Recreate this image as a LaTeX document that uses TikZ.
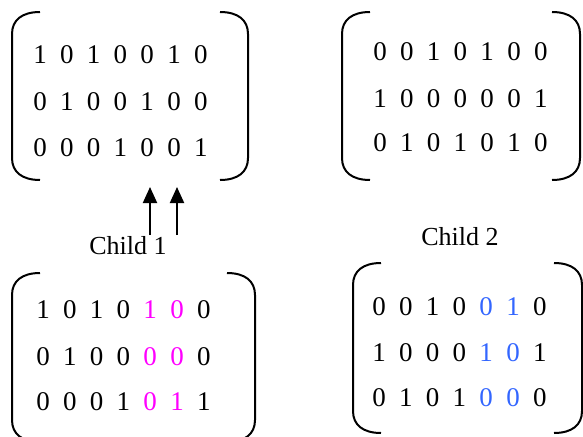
\documentclass[tikz,border=0pt]{standalone}
\usepackage{fontspec}
\setmainfont{Liberation Serif}
\usetikzlibrary{arrows.meta}
\definecolor{mag}{RGB}{255,0,255}
\definecolor{blu}{RGB}{51,102,255}
\tikzset{
  digit/.style={inner sep=0pt,font=\fontsize{27}{27}\selectfont},
  lbl/.style={inner sep=0pt,font=\fontsize{26}{26}\selectfont},
  brk/.style={line width=2pt},
  arr/.style={line width=2pt,-{Triangle[length=16pt,width=14pt]}}
}
% \brpair{x1}{x2}{y1}{y2}
\newcommand{\brpair}[4]{%
  \draw[brk] ({#1+28},#3) .. controls ({#1+10},#3) and (#1,{#3+8}) .. (#1,{#3+22})
     -- (#1,{#4-22}) .. controls (#1,{#4-8}) and ({#1+10},#4) .. ({#1+28},#4);
  \draw[brk] ({#2-28},#3) .. controls ({#2-10},#3) and (#2,{#3+8}) .. (#2,{#3+22})
     -- (#2,{#4-22}) .. controls (#2,{#4-8}) and ({#2-10},#4) .. ({#2-28},#4);
}
% \mrow{name}{x0}{y}{list of digit/colour}
\newcommand{\mrow}[4]{%
  \foreach \d/\c [count=\i from 0] in {#4}
    \node[digit,text=\c] (#1-\i) at ({#2+26.8*\i},#3) {\d};
}
\begin{document}
\begin{tikzpicture}[x=1pt,y=-1pt]
\useasboundingbox (0,0) rectangle (583,436);
% top-left parent
\brpair{12}{248}{12}{180}
\mrow{a1}{40}{55}{1/black,0/black,1/black,0/black,0/black,1/black,0/black}
\mrow{a2}{40}{102}{0/black,1/black,0/black,0/black,1/black,0/black,0/black}
\mrow{a3}{40}{148}{0/black,0/black,0/black,1/black,0/black,0/black,1/black}
% top-right parent
\brpair{342}{580}{12}{180}
\mrow{b1}{380}{52}{0/black,0/black,1/black,0/black,1/black,0/black,0/black}
\mrow{b2}{380}{99}{1/black,0/black,0/black,0/black,0/black,0/black,1/black}
\mrow{b3}{380}{143}{0/black,1/black,0/black,1/black,0/black,1/black,0/black}
% child 1
\node[lbl] (c1) at (128,246) {Child 1};
\brpair{12}{255}{273}{442}
\mrow{c1r1}{43}{310}{1/black,0/black,1/black,0/black,1/mag,0/mag,0/black}
\mrow{c1r2}{43}{357}{0/black,1/black,0/black,0/black,0/mag,0/mag,0/black}
\mrow{c1r3}{43}{402}{0/black,0/black,0/black,1/black,0/mag,1/mag,1/black}
% child 2
\node[lbl] (c2) at (460,237) {Child 2};
\brpair{353}{582}{263}{433}
\mrow{d1}{379}{307}{0/black,0/black,1/black,0/black,0/blu,1/blu,0/black}
\mrow{d2}{379}{353}{1/black,0/black,0/black,0/black,1/blu,0/blu,1/black}
\mrow{d3}{379}{398}{0/black,1/black,0/black,1/black,0/blu,0/blu,0/black}
% arrows
\coordinate (s1) at (150,235);
\coordinate (t1) at (150,187);
\coordinate (s2) at (177,235);
\coordinate (t2) at (177,187);
\draw[arr] (s1) -- (t1);
\draw[arr] (s2) -- (t2);
\end{tikzpicture}
\end{document}
